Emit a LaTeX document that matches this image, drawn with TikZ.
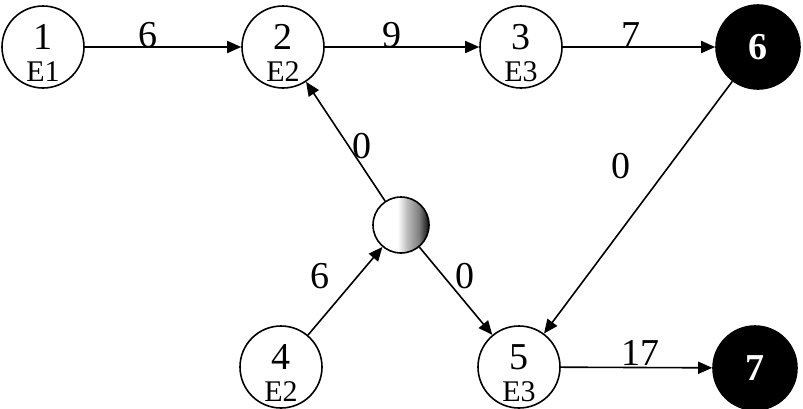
\documentclass[tikz,border=0pt]{standalone}
\usepackage{fontspec}
\setmainfont{Liberation Serif}
\usetikzlibrary{arrows.meta}
\pgfdeclarehorizontalshading{halfdark}{100bp}{color(0bp)=(white); color(47bp)=(white); color(55bp)=(gray!50); color(66bp)=(gray); color(76bp)=(black); color(100bp)=(black)}
\tikzset{
  evt/.style={circle, draw, line width=1.6pt, minimum size=82pt, inner sep=0pt},
  dark/.style={circle, draw, fill=black, line width=1.6pt, minimum size=84pt, inner sep=0pt, text=white, font=\fontsize{38}{38}\selectfont\bfseries},
  mid/.style={circle, draw, line width=1.6pt, minimum size=56pt, inner sep=0pt, shading=halfdark},
  num/.style={font=\fontsize{38}{38}\selectfont, inner sep=0pt},
  sub/.style={font=\fontsize{30}{30}\selectfont, inner sep=0pt},
  lbl/.style={font=\fontsize{38}{38}\selectfont, inner sep=0pt},
  arr/.style={line width=1.6pt, -{Triangle[length=14pt,width=12pt]}},
}
\begin{document}
\begin{tikzpicture}[x=1pt,y=-1pt]
\useasboundingbox (0,0) rectangle (803,408);
% nodes
\node[evt] (n1) at (43,47) {};
\node[evt] (n2) at (283,47) {};
\node[evt] (n3) at (521,47) {};
\node[dark] (n6) at (758,47) {6};
\node[mid] (nm) at (401,225) {};
\node[evt] (n4) at (281,367) {};
\node[evt] (n5) at (519,367) {};
\node[dark] (n7) at (755,368) {7};
% texts inside
\node[num] (t1) at (43,37) {1};
\node[sub] (s1) at (43,72) {E1};
\node[num] (t2) at (283,37) {2};
\node[sub] (s2) at (283,72) {E2};
\node[num] (t3) at (521,37) {3};
\node[sub] (s3) at (521,72) {E3};
\node[num] (t4) at (281,357) {4};
\node[sub] (s4) at (281,392) {E2};
\node[num] (t5) at (519,357) {5};
\node[sub] (s5) at (519,392) {E3};
% edges
\draw[arr] (n1) -- (n2);
\draw[arr] (n2) -- (n3);
\draw[arr] (n3) -- (n6);
\draw[arr] (nm) -- (n2);
\draw[arr] (n4) -- (nm);
\draw[arr] (nm) -- (n5);
\draw[arr] (n6) -- (n5);
\draw[arr] (n5) -- (n7);
% edge labels
\node[lbl] (l12) at (148,35) {6};
\node[lbl] (l23) at (392,35) {9};
\node[lbl] (l36) at (631,35) {7};
\node[lbl] (lm2) at (362,146) {0};
\node[lbl] (l65) at (621,166) {0};
\node[lbl] (l4m) at (320,276) {6};
\node[lbl] (lm5) at (465,276) {0};
\node[lbl] (l57) at (640,353) {17};
\end{tikzpicture}
\end{document}
